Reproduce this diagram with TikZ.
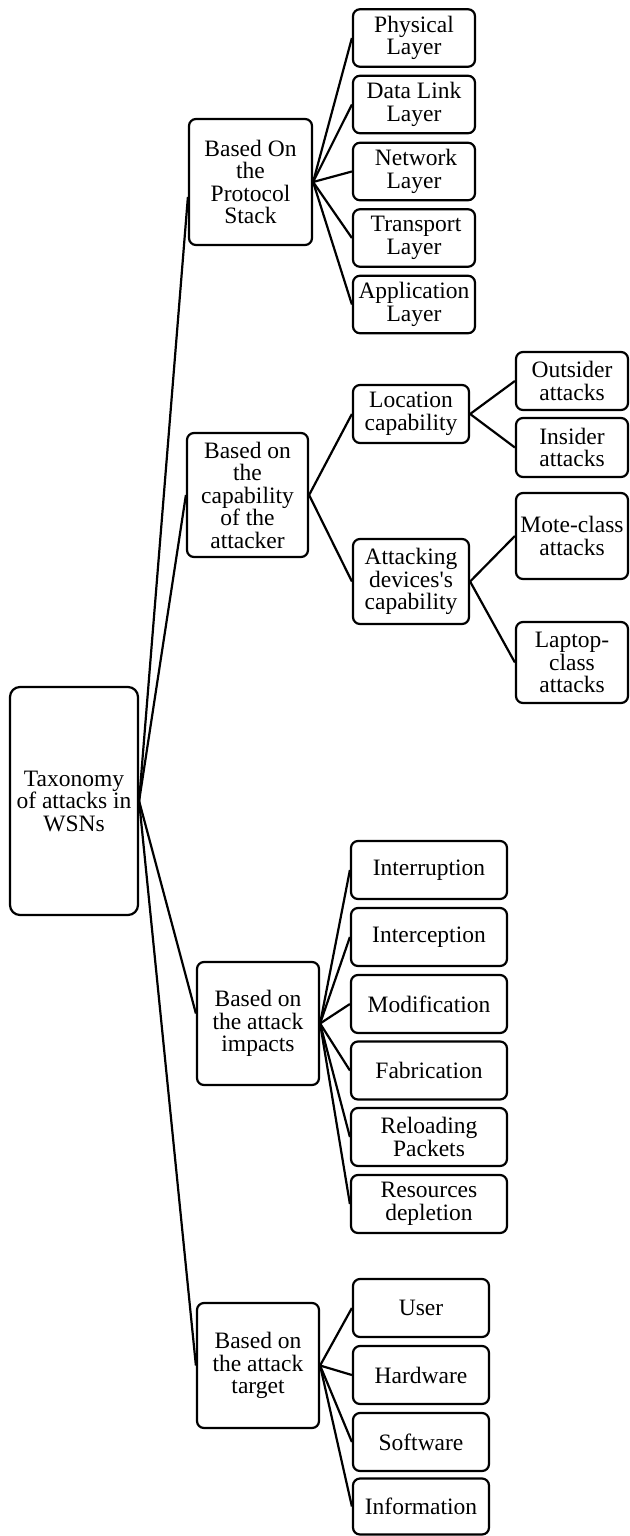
\documentclass[tikz,border=0pt]{standalone}
\usepackage{fontspec}
\setmainfont{Liberation Serif}
\begin{document}
\begin{tikzpicture}[x=1pt,y=-1pt,
  box/.style={draw=black, line width=2.2pt, rounded corners=7pt, inner sep=0pt, align=center,
    font=\fontsize{23.5}{22.5}\selectfont},
  link/.style={draw=black, line width=2.2pt}]
\useasboundingbox (0,0) rectangle (629,1536);
% root
\node[box, rounded corners=10pt, minimum width=128, minimum height=228] (root) at (74,801) {Taxonomy\\of attacks in\\WSNs};
% level 1
\node[box, minimum width=123, minimum height=126] (p1) at (250.5,182) {Based On\\the\\Protocol\\Stack};
\node[box, minimum width=121, minimum height=124] (p2) at (247.5,495) {Based on\\the\\capability\\of the\\attacker};
\node[box, minimum width=122, minimum height=123] (p3) at (258,1023.5) {Based on\\the attack\\impacts};
\node[box, minimum width=122, minimum height=125] (p4) at (258,1365.5) {Based on\\the attack\\target};
% protocol stack
\node[box, minimum width=122, minimum height=57.5] (a1) at (414,38) {Physical\\Layer};
\node[box, minimum width=122, minimum height=57.5] (a2) at (414,104.5) {Data Link\\Layer};
\node[box, minimum width=122, minimum height=57.5] (a3) at (414,171.5) {\hspace*{4pt}Network\\Layer};
\node[box, minimum width=122, minimum height=57.5] (a4) at (414,238) {\hspace*{4pt}Transport\\Layer};
\node[box, minimum width=122, minimum height=57.5] (a5) at (414,304.5) {Application\\Layer};
% capability
\node[box, minimum width=116, minimum height=58] (b1) at (411,414) {Location\\capability};
\node[box, minimum width=116, minimum height=85] (b2) at (411,581.5) {Attacking\\devices\textquotesingle s\\capability};
\node[box, minimum width=112, minimum height=58] (c1) at (572,381) {Outsider\\attacks};
\node[box, minimum width=112, minimum height=59] (c2) at (572,447.5) {Insider\\attacks};
\node[box, minimum width=112, minimum height=86] (c3) at (572,536) {Mote-class\\attacks};
\node[box, minimum width=112, minimum height=81] (c4) at (572,662.5) {Laptop-\\class\\attacks};
% impacts
\node[box, minimum width=156, minimum height=58] (d1) at (429,870) {Interruption};
\node[box, minimum width=156, minimum height=58] (d2) at (429,937) {Interception};
\node[box, minimum width=156, minimum height=58] (d3) at (429,1004) {Modification};
\node[box, minimum width=156, minimum height=58] (d4) at (429,1070.5) {Fabrication};
\node[box, minimum width=156, minimum height=58] (d5) at (429,1137) {Reloading\\Packets};
\node[box, minimum width=156, minimum height=58] (d6) at (429,1204) {Resources\\depletion};
% target
\node[box, minimum width=136, minimum height=58] (e1) at (421,1308) {User};
\node[box, minimum width=136, minimum height=58] (e2) at (421,1375) {Hardware};
\node[box, minimum width=136, minimum height=58] (e3) at (421,1442) {Software};
\node[box, minimum width=136, minimum height=56] (e4) at (421,1506.5) {Information};
% connectors
\draw[link] (root.east) -- ([yshift=-15pt]p1.west);
\draw[link] (root.east) -- (p2.west);
\draw[link] (root.east) -- ([yshift=10pt]p3.west);
\draw[link] (root.east) -- (p4.west);
\foreach \t in {a1,a2,a3,a4,a5} \draw[link] (p1.east) -- (\t.west);
\foreach \t in {b1,b2} \draw[link] (p2.east) -- (\t.west);
\foreach \t in {c1,c2} \draw[link] (b1.east) -- (\t.west);
\foreach \t in {c3,c4} \draw[link] (b2.east) -- (\t.west);
\foreach \t in {d1,d2,d3,d4,d5,d6} \draw[link] (p3.east) -- (\t.west);
\foreach \t in {e1,e2,e3,e4} \draw[link] (p4.east) -- (\t.west);
\end{tikzpicture}
\end{document}
